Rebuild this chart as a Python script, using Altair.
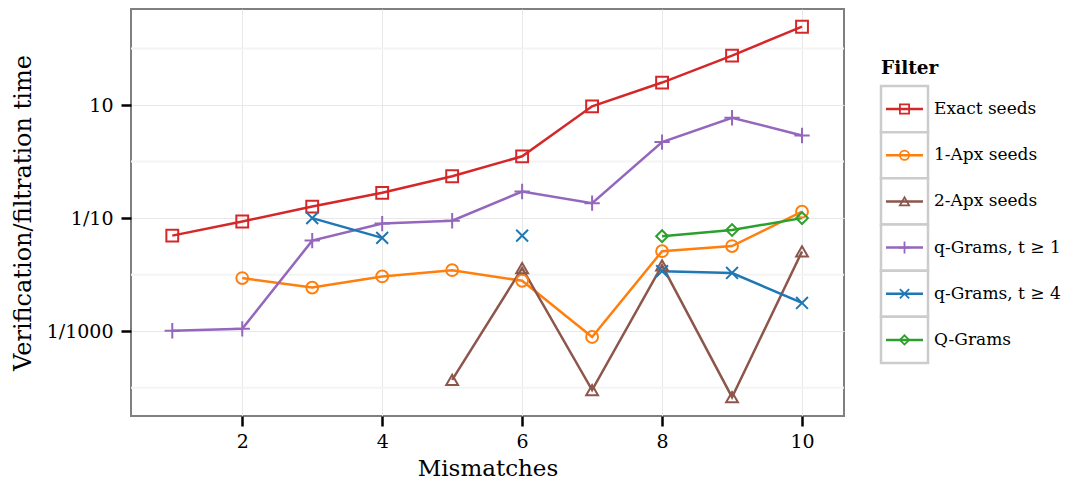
import altair as alt
import pandas as pd

FONT = "DejaVu Serif"

mismatches = [1, 2, 3, 4, 5, 6, 7, 8, 9, 10]
filters = ["Exact seeds", "1-Apx seeds", "2-Apx seeds",
           "q-Grams, t \u2265 1", "q-Grams, t \u2265 4", "Q-Grams"]
colors = ["#d62728", "#ff7f0e", "#8c564b", "#9467bd", "#1f77b4", "#2ca02c"]
shapes = ["square", "circle", "triangle-up",
          "M-1.3,0L1.3,0M0,-1.3L0,1.3",
          "M-1,-1L1,1M-1,1L1,-1",
          "diamond"]

exact_seeds = [0.049, 0.087, 0.16, 0.28, 0.55, 1.24, 9.5, 25, 75, 243]
apx1_seeds = [None, 0.0087, 0.0059, 0.0093, 0.012, 0.0078, 0.00079, 0.026, 0.032, 0.13]
apx2_seeds = [None, None, None, None, 0.000138, 0.013, 0.000091, 0.0146, 0.000068, 0.0257]
qgrams_t1 = [0.00102, 0.0011, 0.040, 0.080, 0.090, 0.296, 0.184, 2.21, 5.96, 2.90]
qgrams_t4 = [None, None, 0.1, 0.0447, None, 0.049, None, 0.0115, 0.0107, 0.00316]
big_qgrams = [None, None, None, None, None, None, None, 0.0479, 0.0617, 0.1]

y_ticks = [10, 0.1, 0.001]
y_minor = [100, 1, 0.01, 0.0001]
x_ticks = [2, 4, 6, 8, 10]

all_series = [exact_seeds, apx1_seeds, apx2_seeds, qgrams_t1, qgrams_t4, big_qgrams]
rows = []
for f, vals in zip(filters, all_series):
    for m, v in zip(mismatches, vals):
        rows.append({"Filter": f, "Mismatches": m, "Time": v})
df = pd.DataFrame(rows)

x_enc = alt.X("Mismatches:Q",
              scale=alt.Scale(domain=[0.41, 10.6], nice=False, zero=False),
              axis=alt.Axis(values=x_ticks, title="Mismatches", format="d"))
y_enc = alt.Y("Time:Q",
              scale=alt.Scale(type="log", domain=[3.16e-5, 500], nice=False),
              axis=alt.Axis(values=y_ticks, title="Verification/filtration time",
                            titleFontSize=24, titlePadding=11,
                            labelExpr="datum.value > 1 ? '10' : (datum.value > 0.01 ? '1/10' : '1/1000')"))
color_enc = alt.Color("Filter:N", scale=alt.Scale(domain=filters, range=colors), legend=None)
shape_enc = alt.Shape("Filter:N", scale=alt.Scale(domain=filters, range=shapes), legend=None)

minor = alt.Chart(pd.DataFrame({"Time": y_minor})).mark_rule(
    color="#f4f4f4", strokeWidth=2).encode(y=y_enc)

lines = alt.Chart(df).mark_line(strokeWidth=2.5).encode(
    x=x_enc, y=y_enc, color=color_enc, order=alt.Order("Mismatches:Q"))

points = alt.Chart(df).mark_point(filled=False, size=140, strokeWidth=2, opacity=1).encode(
    x=x_enc, y=y_enc, color=color_enc, shape=shape_enc)

main = alt.layer(minor, lines, points).properties(
    width=713, height=407,
    view=alt.ViewBackground(stroke="#808080", strokeWidth=2))

# legend panel
leg_df = pd.DataFrame({"Filter": filters})
yl = alt.Y("Filter:N", sort=filters, axis=None,
           scale=alt.Scale(domain=filters, range=[77, 354], paddingInner=0, paddingOuter=0))
leg_base = alt.Chart(leg_df)
boxes = leg_base.mark_rect(fill="white", stroke="#cccccc", strokeWidth=2.5).encode(
    x=alt.value(0), x2=alt.value(47), y=yl)
keylines = leg_base.mark_rule(strokeWidth=2.5).encode(
    x=alt.value(5), x2=alt.value(42), y=yl, color=color_enc)
keypoints = leg_base.mark_point(filled=False, size=85, strokeWidth=1.8, opacity=1).encode(
    x=alt.value(23.5), y=yl, color=color_enc, shape=shape_enc)
labels = leg_base.mark_text(align="left", baseline="middle", font=FONT, fontSize=17,
                            color="black").encode(x=alt.value(53), y=yl, text="Filter:N")
leg_title = alt.Chart(pd.DataFrame({"t": ["Filter"]})).mark_text(
    align="left", baseline="middle", font=FONT, fontSize=18.5, fontWeight="bold",
    color="black").encode(x=alt.value(0), y=alt.value(59), text="t:N")

legend = alt.layer(boxes, keylines, keypoints, labels, leg_title).properties(
    width=47, height=407)

chart = alt.hconcat(main, legend, spacing=33).properties(
    padding={"left": 2, "top": 0, "right": 0, "bottom": 0}
).configure(font=FONT).configure_view(stroke=None).configure_axis(
    labelFont=FONT, titleFont=FONT, labelFontSize=19, titleFontSize=23,
    labelColor="black", titleColor="black", titleFontWeight="normal",
    domain=False, tickColor="black", tickWidth=2.5, tickSize=10,
    gridColor="#e8e8e8", gridWidth=1, labelPadding=6, titlePadding=6
).configure_axisY(labelPadding=8)

chart.save("out.html", embed_options={"renderer": "svg", "actions": False})
